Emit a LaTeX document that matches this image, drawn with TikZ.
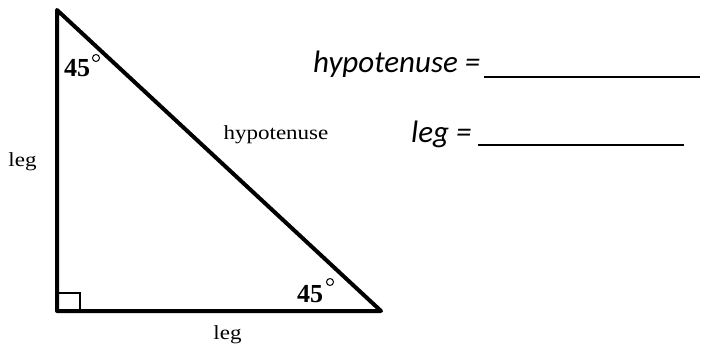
\documentclass[tikz,border=0pt]{standalone}
\usepackage{fontspec}
\setmainfont{Liberation Serif}
\newfontfamily\calfont{Carlito}
\newfontfamily\serfont{Liberation Serif}
\begin{document}
\begin{tikzpicture}[x=1pt,y=-1pt,
  tri/.style={line width=4pt,line join=round},
  lab/.style={inner sep=0pt,anchor=base,font=\serfont\fontsize{20}{21}\selectfont},
  ang/.style={inner sep=0pt,anchor=base west,font=\serfont\bfseries\fontsize{26}{28}\selectfont},
  eqtext/.style={inner sep=0pt,anchor=base west,font=\calfont\itshape\fontsize{31}{33}\selectfont},
  degc/.style={line width=1pt}]
\useasboundingbox (0,0) rectangle (701,345);
\coordinate (A) at (57,10);
\coordinate (B) at (57,311);
\coordinate (C) at (381,311);
\draw[tri] (A) -- (B) -- (C) -- cycle;
\draw[line width=2pt] (57,293) -| (80,311);
% angle labels
\node[ang] (a1) at (64,77) {45};
\draw[degc] (96,58) circle (3.5);
\node[ang] (a2) at (297,302) {45};
\draw[degc] (330,282) circle (3.5);
% side labels
\node[lab] (hl) at (276,139) {\scalebox{1.15}[1]{hypotenuse}};
\node[lab] (ll) at (22.5,166) {\scalebox{1.15}[1]{leg}};
\node[lab] (lb) at (227.5,339) {\scalebox{1.15}[1]{leg}};
% equations
\node[eqtext] (hyp) at (313,73) {hypotenuse =};
\coordinate (h1) at (484,77);
\coordinate (h2) at (700,77);
\draw[line width=2.2pt] (h1) -- (h2);
\node[eqtext] (leg) at (411,142) {leg =};
\coordinate (l1) at (478,145);
\coordinate (l2) at (684,145);
\draw[line width=1.3pt] (l1) -- (l2);
\end{tikzpicture}
\end{document}
